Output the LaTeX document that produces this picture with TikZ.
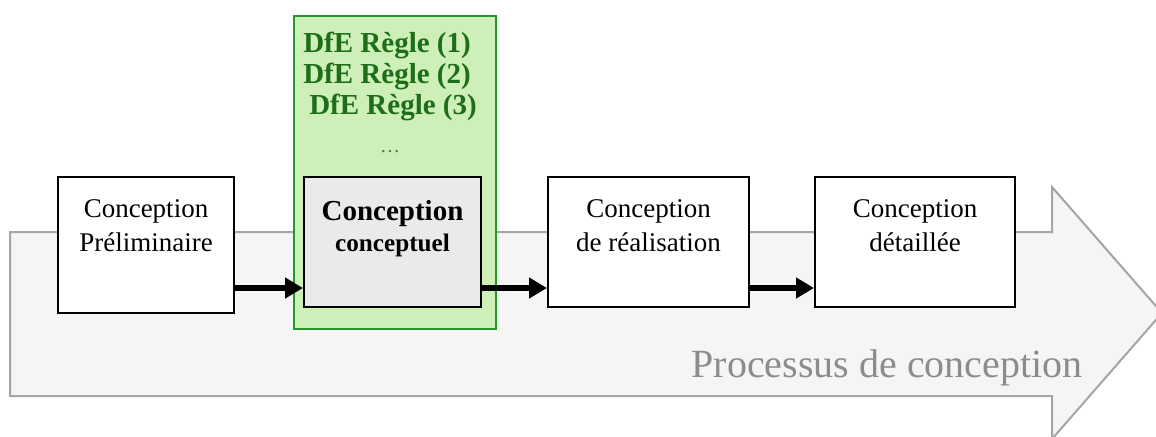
\documentclass[tikz,border=0pt]{standalone}
\usepackage{fontspec}
\setmainfont{Liberation Serif}
\usetikzlibrary{arrows.meta}
\definecolor{bodyfill}{RGB}{245,245,245}
\definecolor{bodyline}{RGB}{165,165,165}
\definecolor{greenfill}{RGB}{206,240,184}
\definecolor{greenline}{RGB}{40,150,40}
\definecolor{greentext}{RGB}{30,110,25}
\definecolor{grayfill}{RGB}{234,234,236}
\definecolor{proctext}{RGB}{140,140,140}
\tikzset{
  stagebox/.style={draw=black, line width=1pt, fill=white, inner sep=0pt, anchor=north west},
  flow/.style={line width=2.6pt, -{Triangle[length=9pt,width=10pt]}},
  rule/.style={text=greentext, font=\bfseries\fontsize{14.5}{16}\selectfont, inner sep=0pt}
}
\newcommand{\stagetext}[3]{\parbox[c][#1][t]{#2}{\centering\vspace{11.5pt}#3}}
\begin{document}
\begin{tikzpicture}[x=0.5pt,y=-0.5pt]
\useasboundingbox (0,0) rectangle (1156,436);
\clip (0,0) rectangle (1156,436);
% big process arrow
\draw[fill=bodyfill, draw=bodyline, line width=1pt]
  (10,232) -- (1052,232) -- (1052,187) -- (1162,313) -- (1052,439) -- (1052,396) -- (10,396) -- cycle;
\node[text=proctext, font=\fontsize{20}{24}\selectfont, anchor=base] (proc) at (887,377) {Processus de conception};
% green rule panel
\node[draw=greenline, line width=1.2pt, fill=greenfill, minimum width=101pt, minimum height=156.5pt, anchor=north west, inner sep=0pt] (panel) at (293,15) {};
\node[rule] (r1) at (387,45) {DfE Règle (1)};
\node[rule] (r2) at (387,76) {DfE Règle (2)};
\node[rule] (r3) at (393,107) {DfE Règle (3)};
\node[text=greentext!60!gray, font=\fontsize{10}{12}\selectfont, inner sep=0pt] (dots) at (390,152) {\dots};
% stages
\node[stagebox] (b1) at (57,176) {\stagetext{68pt}{88pt}{\fontsize{13.5}{17}\selectfont Conception\\Préliminaire}};
\node[stagebox, fill=grayfill] (b2) at (303,176) {\stagetext{65pt}{88.5pt}{\bfseries\fontsize{14.5}{17}\selectfont Conception\\[0.5pt]\fontsize{12.6}{15}\selectfont conceptuel}};
\node[stagebox] (b3) at (547,176) {\stagetext{65pt}{100.5pt}{\fontsize{13.5}{17}\selectfont Conception\\de réalisation}};
\node[stagebox] (b4) at (814,176) {\stagetext{65pt}{100pt}{\fontsize{13.5}{17}\selectfont Conception\\détaillée}};
% flows
\coordinate (fy) at (0,288);
\draw[flow] (b1.east |- fy) -- (b2.west |- fy);
\draw[flow] (b2.east |- fy) -- (b3.west |- fy);
\draw[flow] (b3.east |- fy) -- (b4.west |- fy);
\end{tikzpicture}
\end{document}
